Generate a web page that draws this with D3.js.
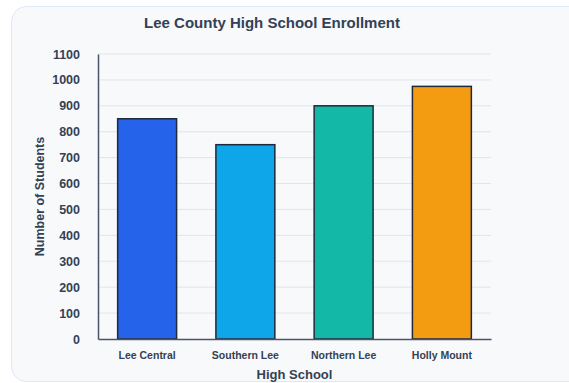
<!DOCTYPE html>
<html>
<head>
<meta charset="utf-8">
<script src="https://cdn.jsdelivr.net/npm/d3@7"></script>
<style>
  html, body { margin: 0; padding: 0; background: #ffffff; }
  svg { display: block; font-family: "Helvetica Neue", Helvetica, Arial, "Liberation Sans", sans-serif; }
</style>
</head>
<body>
<svg id="chart" width="569" height="383"></svg>
<script>
// chart data
var schools = ['Lee Central', 'Southern Lee', 'Northern Lee', 'Holly Mount'];
var enrollment = [850, 750, 900, 975];
var barColors = ['#2563eb', '#0ea5e9', '#14b8a6', '#f39c12'];
var yTicks = [0, 100, 200, 300, 400, 500, 600, 700, 800, 900, 1000, 1100];

var svg = d3.select('#chart');
var textColor = '#334155';

// card behind the chart
svg.append('rect')
  .attr('x', 11.5).attr('y', 6.5)
  .attr('width', 600).attr('height', 375)
  .attr('rx', 15).attr('ry', 15)
  .style('fill', '#f8f9fb')
  .style('stroke', '#dde8f8')
  .style('stroke-width', 1);

// plot area edges (not "top", that one belongs to window)
var plotLeft = 98, plotRight = 491, plotTop = 54, plotBottom = 339;

var x = d3.scaleBand()
  .domain(schools)
  .range([plotLeft, plotRight])
  .paddingInner(0.4)
  .paddingOuter(0.2);

var y = d3.scaleLinear()
  .domain([0, 1100])
  .range([plotBottom, plotTop]);

// gridlines
svg.append('g')
  .selectAll('line')
  .data(yTicks.slice(1))
  .enter().append('line')
  .attr('x1', plotLeft).attr('x2', plotRight)
  .attr('y1', function(d) { return y(d); })
  .attr('y2', function(d) { return y(d); })
  .style('stroke', '#e1e5ec')
  .style('stroke-width', 1);

// bars
svg.append('g')
  .selectAll('rect')
  .data(schools)
  .enter().append('rect')
  .attr('x', function(d) { return x(d); })
  .attr('y', function(d, i) { return y(enrollment[i]); })
  .attr('width', x.bandwidth())
  .attr('height', function(d, i) { return y(0) - y(enrollment[i]); })
  .style('fill', function(d, i) { return barColors[i]; })
  .style('stroke', '#1e293b')
  .style('stroke-width', 1.5);

// y axis
var yAxis = svg.append('g')
  .attr('transform', 'translate(' + plotLeft + ',0)')
  .call(d3.axisLeft(y).tickValues(yTicks).tickFormat(d3.format('d')).tickSize(0).tickPadding(18));
yAxis.select('.domain').style('stroke', '#475569').style('stroke-width', 1.5);
yAxis.selectAll('text')
  .style('font-size', '12.5px').style('font-weight', 'bold').style('fill', textColor);

// x axis
var xAxis = svg.append('g')
  .attr('transform', 'translate(0,' + plotBottom + ')')
  .call(d3.axisBottom(x).tickSize(0).tickPadding(13));
xAxis.select('.domain').style('stroke', '#475569').style('stroke-width', 1.5);
xAxis.selectAll('text')
  .style('font-size', '10.5px').style('font-weight', 'bold').style('fill', textColor);

// title
svg.append('text')
  .attr('x', 272).attr('y', 28)
  .attr('text-anchor', 'middle')
  .style('font-size', '15px').style('font-weight', 'bold').style('fill', textColor)
  .text('Lee County High School Enrollment');

// axis titles
svg.append('text')
  .attr('x', (plotLeft + plotRight) / 2).attr('y', 379)
  .attr('text-anchor', 'middle')
  .style('font-size', '13px').style('font-weight', 'bold').style('fill', textColor)
  .text('High School');

svg.append('text')
  .attr('transform', 'translate(44,' + ((plotTop + plotBottom) / 2) + ') rotate(-90)')
  .attr('text-anchor', 'middle')
  .style('font-size', '12.5px').style('font-weight', 'bold').style('fill', textColor)
  .text('Number of Students');
</script>
</body>
</html>
